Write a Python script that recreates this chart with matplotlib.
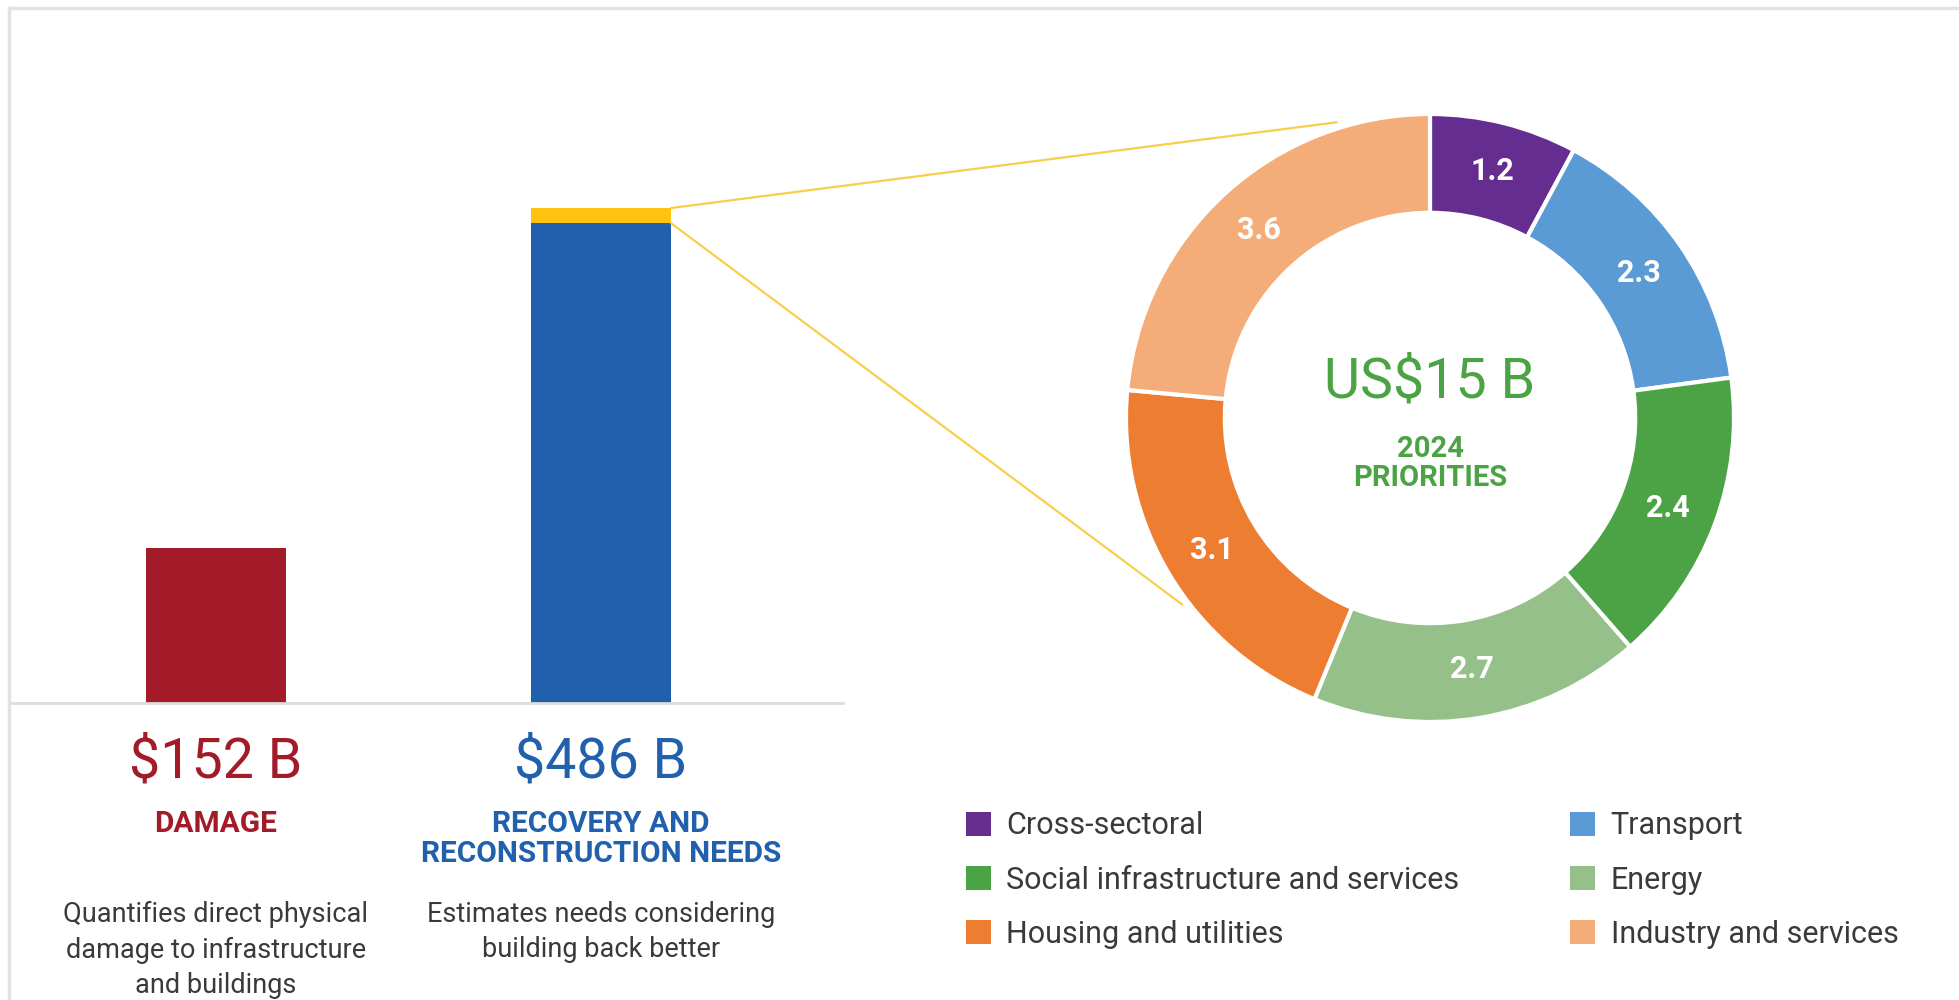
import matplotlib
matplotlib.use("Agg")
import numpy as np
import matplotlib.pyplot as plt
from matplotlib import font_manager, transforms
from matplotlib.patches import ConnectionPatch, Patch

# data
bar_labels = ["$152 B", "$486 B"]
bar_titles = ["DAMAGE", "RECOVERY AND\nRECONSTRUCTION NEEDS"]
bar_notes = ["Quantifies direct physical\ndamage to infrastructure\nand buildings",
             "Estimates needs considering\nbuilding back better"]
damage = 152
needs_total = 486
priorities_2024 = 15
needs_rest = needs_total - priorities_2024

sectors = ["Cross-sectoral", "Transport", "Social infrastructure and services",
           "Energy", "Housing and utilities", "Industry and services"]
sector_values = [1.2, 2.3, 2.4, 2.7, 3.1, 3.6]
sector_colors = ["#662D91", "#5B9BD5", "#4BA345", "#95C08A", "#ED7D31", "#F4AC78"]

RED = "#A31A28"
BLUE = "#2160AC"
YELLOW = "#FFC20E"
GREEN = "#4BA345"
GREY_TXT = "#3a3a3a"

names = {f.name for f in font_manager.fontManager.ttflist}
FONT = "Liberation Sans Narrow" if "Liberation Sans Narrow" in names else "Roboto"
plt.rcParams["font.family"] = [FONT, "DejaVu Sans"]

W, H = 1959, 1000
fig = plt.figure(figsize=(W / 100, H / 100), dpi=100)

# light frame
fig.add_artist(plt.Line2D([9 / W, 9 / W], [0, 1 - 8 / H], color="#E2E2E2", lw=2.5))
fig.add_artist(plt.Line2D([9 / W, 1], [1 - 8 / H, 1 - 8 / H], color="#E2E2E2", lw=2.5))

# ---- bars ----
ax = fig.add_axes([12 / W, 1 - 703 / H, 831 / W, 553 / H])
base_px, top_px = 703, 208
ax.set_ylim(0, needs_total * 553 / (base_px - top_px))
ax.set_xlim(-0.53, 1.629)
bw = 0.365
ax.bar([0], [damage], width=bw, color=RED)
ax.bar([1], [needs_rest], width=bw, color=BLUE)
ax.bar([1], [priorities_2024], bottom=[needs_rest], width=bw, color=YELLOW)
for s in ["top", "right", "left"]:
    ax.spines[s].set_visible(False)
ax.spines["bottom"].set_color("#DDDDDD")
ax.spines["bottom"].set_linewidth(2)
ax.set_xticks([])
ax.set_yticks([])

tr = transforms.blended_transform_factory(ax.transData, fig.transFigure)
colors = [RED, BLUE]
for i in range(2):
    ax.text(i, 1 - 762 / H, bar_labels[i], transform=tr, ha="center", va="center",
            fontsize=40, color=colors[i])
    ax.text(i, 1 - 810 / H, bar_titles[i], transform=tr, ha="center", va="top",
            fontsize=21.5, fontweight="bold", color=colors[i], linespacing=1.1)
    ax.text(i, 1 - 901 / H, bar_notes[i], transform=tr, ha="center", va="top",
            fontsize=19.5, color=GREY_TXT, linespacing=1.4)

# ---- donut ----
cx, cy, r_px = 1430, 418, 304
half = 320
axp = fig.add_axes([(cx - half) / W, 1 - (cy + half) / H, 2 * half / W, 2 * half / H])
lim = half / r_px
ring = 0.325
wedges, _ = axp.pie(sector_values, colors=sector_colors, startangle=90, counterclock=False,
                    radius=1, wedgeprops=dict(width=ring, edgecolor="white", linewidth=3))
axp.set_xlim(-lim, lim)
axp.set_ylim(-lim, lim)
axp.set_aspect("equal")
axp.axis("off")
for w, v in zip(wedges, sector_values):
    ang = np.deg2rad((w.theta1 + w.theta2) / 2)
    rr = 1 - ring / 2
    axp.text(rr * np.cos(ang), rr * np.sin(ang), f"{v:.1f}", ha="center", va="center",
             fontsize=22, fontweight="bold", color="white")

axp.text(0, 0.12, "US$15 B", ha="center", va="center", fontsize=40, color=GREEN)
axp.text(0, -0.15, "2024\nPRIORITIES", ha="center", va="center", fontsize=21,
         fontweight="bold", color=GREEN, linespacing=1.05)

# connector lines
for yv, deg in [(needs_total, 107.5), (needs_rest, 217)]:
    a = np.deg2rad(deg)
    con = ConnectionPatch(xyA=(1 + bw / 2, yv), coordsA=ax.transData,
                          xyB=(1.02 * np.cos(a), 1.02 * np.sin(a)), coordsB=axp.transData,
                          color="#F7CF4A", lw=1.6)
    fig.add_artist(con)

# ---- legend ----
order = [0, 2, 4, 1, 3, 5]
handles = [Patch(facecolor=sector_colors[i], edgecolor="none") for i in order]
labels = [sectors[i] for i in order]
fig.legend(handles, labels, ncol=2, loc="upper left",
           bbox_to_anchor=(938 / W, 1 - 784 / H), frameon=False, fontsize=22,
           handlelength=0.82, handleheight=0.82, handletextpad=0.52,
           columnspacing=3.6, labelspacing=0.82, labelcolor=GREY_TXT)

fig.savefig("out.png", dpi=100)
